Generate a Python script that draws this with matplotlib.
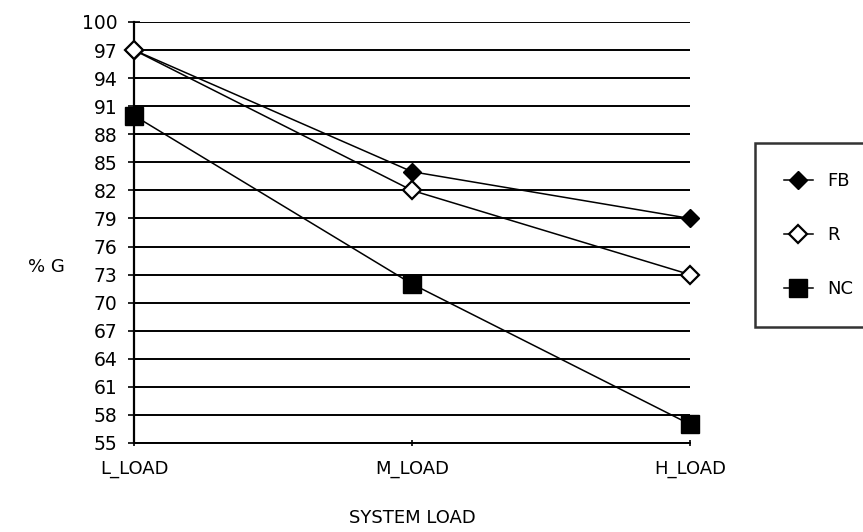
import matplotlib.pyplot as plt
import numpy as np

# Gegevens
belasting = ['L_LOAD', 'M_LOAD', 'H_LOAD']
fb = [97, 84, 79]
r = [97, 82, 73]
nc = [90, 72, 57]
y_ticks = [55, 58, 61, 64, 67, 70, 73, 76, 79, 82, 85, 88, 91, 94, 97, 100]

fig = plt.figure(figsize=(8.63, 5.32), dpi=100)
ax = fig.add_axes([134 / 863, 1 - 443 / 532, (690 - 134) / 863, (443 - 22) / 532])

x = np.arange(len(belasting))

ax.plot(x, fb, color='black', lw=1.1, marker='D', ms=9.5, mfc='black', label='FB', zorder=3, clip_on=False)
ax.plot(x, r, color='black', lw=1.1, marker='D', ms=9.5, mfc='white', mew=1.6, label='R', zorder=3, clip_on=False)
ax.plot(x, nc, color='black', lw=1.1, marker='s', ms=13, mfc='black', label='NC', zorder=3, clip_on=False)

ax.set_xlim(0, 2)
ax.set_ylim(55, 100)
ax.set_yticks(y_ticks)
ax.set_yticklabels([str(t) for t in y_ticks], fontsize=13.5)
ax.set_xticks(x)
ax.set_xticklabels(belasting, fontsize=13)
ax.tick_params(axis='x', length=5, width=1.2, pad=10, direction='inout')
ax.tick_params(axis='y', length=8, width=1.2, pad=8, direction='inout')

ax.grid(axis='y', color='black', lw=1.4)
ax.set_axisbelow(True)
for kant in ['top', 'right']:
    ax.spines[kant].set_visible(False)
ax.spines['left'].set_linewidth(1.6)
ax.spines['bottom'].set_linewidth(1.4)

ax.set_xlabel('SYSTEM LOAD', fontsize=13, labelpad=22)
fig.text(28 / 863, 1 - 267 / 532, '% G', fontsize=13, va='center', ha='left')

leg = fig.legend(loc='upper left', bbox_to_anchor=(755 / 863, 1 - 143 / 532),
                 fontsize=13, frameon=True, fancybox=False, edgecolor='black',
                 handlelength=1.6, handletextpad=0.8, labelspacing=2.0,
                 borderpad=1.6, borderaxespad=0)
leg.get_frame().set_linewidth(1.8)

fig.savefig('out.png', dpi=100)
